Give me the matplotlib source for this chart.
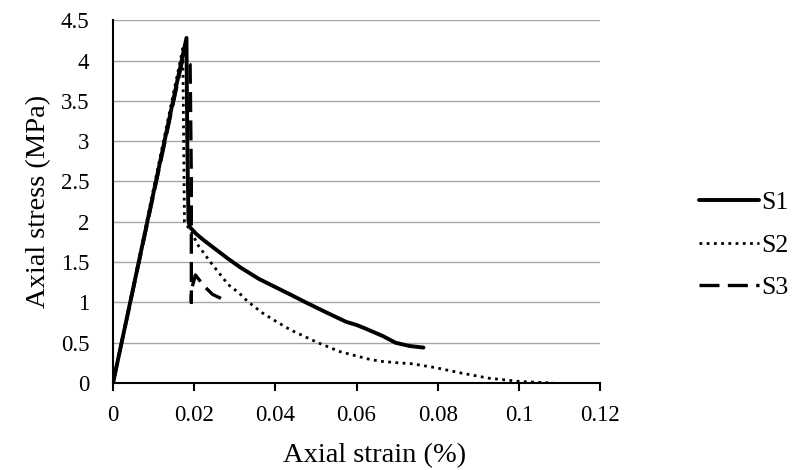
import matplotlib
matplotlib.use("Agg")
import matplotlib.pyplot as plt

# Data
s1_x = [0, 0.0181, 0.0183, 0.0186, 0.0190, 0.0205, 0.0224, 0.0250, 0.0284, 0.0315, 0.0360,
        0.0400, 0.0440, 0.0475, 0.0528, 0.0574, 0.0600, 0.0620, 0.0666, 0.0696, 0.0730, 0.0765]
s1_y = [0, 4.28, 3.00, 2.00, 1.93, 1.85, 1.77, 1.67, 1.54, 1.43, 1.29,
        1.19, 1.09, 1.00, 0.87, 0.76, 0.72, 0.68, 0.58, 0.50, 0.46, 0.44]

s2_x = [0, 0.0172, 0.0174, 0.0176, 0.0195, 0.0208, 0.0240, 0.0284, 0.0310, 0.0330, 0.0368,
        0.0400, 0.0437, 0.0505, 0.0559, 0.0627, 0.0659, 0.0704, 0.0735, 0.0796, 0.0857,
        0.0926, 0.1002, 0.1085]
s2_y = [0, 4.15, 3.00, 2.00, 1.86, 1.72, 1.50, 1.22, 1.12, 1.02, 0.87,
        0.77, 0.66, 0.50, 0.39, 0.30, 0.27, 0.25, 0.24, 0.19, 0.125,
        0.06, 0.02, 0.0]

s3_x = [0, 0.0172, 0.0190, 0.0193, 0.0193, 0.0193, 0.0203, 0.0225, 0.0245, 0.0266]
s3_y = [0, 4.02, 3.95, 2.50, 1.00, 1.15, 1.34, 1.20, 1.10, 1.05]

x_ticks = [0, 0.02, 0.04, 0.06, 0.08, 0.1, 0.12]
x_labels = ["0", "0.02", "0.04", "0.06", "0.08", "0.1", "0.12"]
y_ticks = [0, 0.5, 1, 1.5, 2, 2.5, 3, 3.5, 4, 4.5]
y_labels = ["0", "0.5", "1", "1.5", "2", "2.5", "3", "3.5", "4", "4.5"]

plt.rcParams['font.family'] = ['Liberation Serif', 'DejaVu Serif']

fig = plt.figure(figsize=(7.98, 4.70), dpi=100)
ax = fig.add_axes([0.1416, 0.185, 0.6104, 0.772])

ax.plot(s1_x, s1_y, color='black', lw=2.8, ls='-', label='S1',
        solid_joinstyle='round', solid_capstyle='round')
ax.plot(s2_x, s2_y, color='black', lw=2.0, ls=(0, (1, 1.6)), label='S2')
ax.plot(s3_x, s3_y, color='black', lw=2.4, ls=(0, (6, 2.5)), label='S3')

ax.set_xlim(0, 0.12)
ax.set_ylim(0, 4.5)
ax.set_xticks(x_ticks)
ax.set_xticklabels(x_labels)
ax.set_yticks(y_ticks)
ax.set_yticklabels(y_labels)

ax.grid(axis='y', color='#a6a6a6', lw=1.0)
ax.set_axisbelow(True)
for s in ['top', 'right']:
    ax.spines[s].set_visible(False)
for s in ['left', 'bottom']:
    ax.spines[s].set_linewidth(1.5)
    ax.spines[s].set_color('black')

ax.tick_params(axis='x', direction='out', length=6, width=1.5, labelsize=16.5, pad=10)
ax.tick_params(axis='y', length=0, labelsize=16.5, pad=17)

ax.set_xlabel('Axial strain (%)', fontsize=20.5, labelpad=12, x=0.536)
ax.set_ylabel('Axial stress (MPa)', fontsize=20.5, labelpad=7)

leg = ax.legend(loc='center left', bbox_to_anchor=(1.155, 0.38), frameon=False,
                fontsize=18.5, handlelength=2.35, handletextpad=0.1, labelspacing=0.75)

fig.savefig('out.png', dpi=100)
